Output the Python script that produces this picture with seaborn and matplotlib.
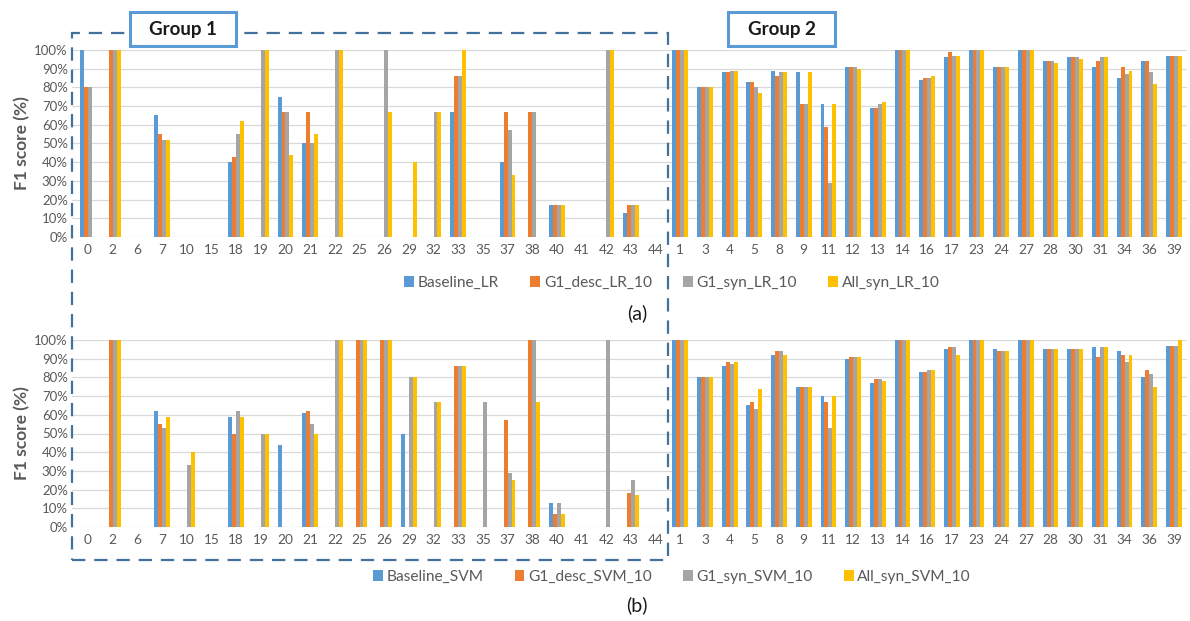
import matplotlib
matplotlib.use("Agg")
import matplotlib.pyplot as plt
import numpy as np
import pandas as pd
import seaborn as sns
from matplotlib.patches import Rectangle, Patch

# ---------------- data ----------------
categories = ['0', '2', '6', '7', '10', '15', '18', '19', '20', '21', '22', '25', '26',
              '29', '32', '33', '35', '37', '38', '40', '41', '42', '43', '44',
              '1', '3', '4', '5', '8', '9', '11', '12', '13', '14', '16', '17', '23',
              '24', '27', '28', '30', '31', '34', '36', '39']

lr_names = ['Baseline_LR', 'G1_desc_LR_10', 'G1_syn_LR_10', 'All_syn_LR_10']
svm_names = ['Baseline_SVM', 'G1_desc_SVM_10', 'G1_syn_SVM_10', 'All_syn_SVM_10']

# Panel (a) - LR
lr_baseline = [100, 0, 0, 65, 0, 0, 40, 0, 75, 50, 0, 0, 0,
               0, 0, 67, 0, 40, 0, 17, 0, 0, 13, 0,
               100, 80, 88, 83, 89, 88, 71, 91, 69, 100, 84, 96, 100,
               91, 100, 94, 96, 91, 85, 94, 97]
lr_g1_desc = [80, 100, 0, 55, 0, 0, 43, 0, 67, 67, 0, 0, 0,
              0, 0, 86, 0, 67, 67, 17, 0, 0, 17, 0,
              100, 80, 88, 83, 86, 71, 59, 91, 69, 100, 85, 99, 100,
              91, 100, 94, 96, 94, 91, 94, 97]
lr_g1_syn = [80, 100, 0, 52, 0, 0, 55, 100, 67, 50, 100, 0, 100,
             0, 67, 86, 0, 57, 67, 17, 0, 100, 17, 0,
             100, 80, 89, 80, 88, 71, 29, 91, 71, 100, 85, 97, 100,
             91, 100, 94, 96, 96, 87, 88, 97]
lr_all_syn = [0, 100, 0, 52, 0, 0, 62, 100, 44, 55, 100, 0, 67,
              40, 67, 100, 0, 33, 0, 17, 0, 100, 17, 0,
              100, 80, 89, 77, 88, 88, 71, 90, 72, 100, 86, 97, 100,
              91, 100, 93, 95, 96, 89, 82, 97]

# Panel (b) - SVM
svm_baseline = [0, 0, 0, 62, 0, 0, 59, 0, 44, 61, 0, 0, 0,
                50, 0, 0, 0, 0, 0, 13, 0, 0, 0, 0,
                100, 80, 86, 65, 92, 75, 70, 90, 77, 100, 83, 95, 100,
                95, 100, 95, 95, 96, 94, 80, 97]
svm_g1_desc = [0, 100, 0, 55, 0, 0, 50, 0, 0, 62, 0, 100, 100,
               0, 0, 86, 0, 57, 100, 7, 0, 0, 18, 0,
               100, 80, 88, 67, 94, 75, 67, 91, 79, 100, 83, 96, 100,
               94, 100, 95, 95, 91, 92, 84, 97]
svm_g1_syn = [0, 100, 0, 53, 33, 0, 62, 50, 0, 55, 100, 100, 100,
              80, 67, 86, 67, 29, 100, 13, 0, 100, 25, 0,
              100, 80, 87, 63, 94, 75, 53, 91, 79, 100, 84, 96, 100,
              94, 100, 95, 95, 96, 88, 82, 97]
svm_all_syn = [0, 100, 0, 59, 40, 0, 59, 50, 0, 50, 100, 100, 100,
               80, 67, 86, 0, 25, 67, 7, 0, 0, 17, 0,
               100, 80, 88, 74, 92, 75, 70, 91, 78, 100, 84, 92, 100,
               94, 100, 95, 95, 96, 92, 75, 100]

colors = ['#5B9BD5', '#ED7D31', '#A5A5A5', '#FFC000']
yticks = list(range(0, 101, 10))
ytick_labels = [f'{v}%' for v in yticks]

# ---------------- style ----------------
sns.set_theme(style='white')
plt.rcParams['font.family'] = ['Lato', 'DejaVu Sans']

W, H = 1190, 621
fig = plt.figure(figsize=(W / 100, H / 100), dpi=100)
fig.patch.set_facecolor('white')

text_gray = '#595959'


def long_df(names, series):
    rows = []
    for name, vals in zip(names, series):
        for c, v in zip(categories, vals):
            rows.append({'cat': c, 'series': name, 'val': v})
    return pd.DataFrame(rows)


def draw_panel(ax, names, series, legend_y):
    df = long_df(names, series)
    sns.barplot(data=df, x='cat', y='val', hue='series', order=categories,
                hue_order=names, palette=colors, width=0.64, saturation=1,
                linewidth=0, ax=ax, legend=False)
    ax.set_xlim(-0.65, len(categories) - 0.47)
    ax.set_ylim(0, 100)
    ax.set_yticks(yticks)
    ax.set_yticklabels(ytick_labels)
    ax.grid(axis='y', color='#D9D9D9', linewidth=0.9)
    ax.grid(axis='x', visible=False)
    ax.set_axisbelow(True)
    for s in ax.spines.values():
        s.set_visible(False)
    ax.tick_params(axis='x', length=0, pad=5, labelsize=9.8, labelcolor=text_gray)
    ax.tick_params(axis='y', length=0, pad=3, labelsize=9.5, labelcolor=text_gray)
    ax.set_xlabel('')
    ax.set_ylabel('F1 score (%)', fontsize=12.5, fontweight='bold', color=text_gray)
    ax.yaxis.set_label_coords((30 - 72) / 1115, 0.5)
    handles = [Patch(facecolor=c, edgecolor='none') for c in colors]
    fig.legend(handles, names, loc='center', bbox_to_anchor=(672 / W, 1 - legend_y / H),
               ncol=4, frameon=False, fontsize=11.2, handlelength=0.62,
               handleheight=0.62, handletextpad=0.25, columnspacing=2.0,
               labelcolor=text_gray)


ax_a = fig.add_axes([72 / W, 1 - 237 / H, 1115 / W, 187 / H])
ax_b = fig.add_axes([72 / W, 1 - 527 / H, 1115 / W, 187 / H])

draw_panel(ax_a, lr_names, [lr_baseline, lr_g1_desc, lr_g1_syn, lr_all_syn], 283)
draw_panel(ax_b, svm_names, [svm_baseline, svm_g1_desc, svm_g1_syn, svm_all_syn], 577)

fig.text(637 / W, 1 - 313 / H, '(a)', ha='center', va='center', fontsize=14, color='#1a1a1a')
fig.text(637 / W, 1 - 605 / H, '(b)', ha='center', va='center', fontsize=14, color='#1a1a1a')

# dashed Group 1 frame
frame = Rectangle((72 / W, 1 - 560 / H), (668 - 72) / W, (560 - 33) / H,
                  transform=fig.transFigure, fill=False, edgecolor='#41719C',
                  linewidth=1.6, linestyle=(0, (6, 4)), zorder=5)
fig.add_artist(frame)

# group label boxes
for (x0, x1, label) in [(130, 236, 'Group 1'), (728, 835, 'Group 2')]:
    box = Rectangle((x0 / W, 1 - 46 / H), (x1 - x0) / W, 34 / H,
                    transform=fig.transFigure, facecolor='white',
                    edgecolor='#5B9BD5', linewidth=2.2, zorder=6)
    fig.add_artist(box)
    fig.text((x0 + x1) / 2 / W, 1 - 29 / H, label, ha='center', va='center',
             fontsize=13.5, fontweight='bold', color='#1a1a1a', zorder=7)

fig.savefig('out.png', dpi=100, facecolor='white')
